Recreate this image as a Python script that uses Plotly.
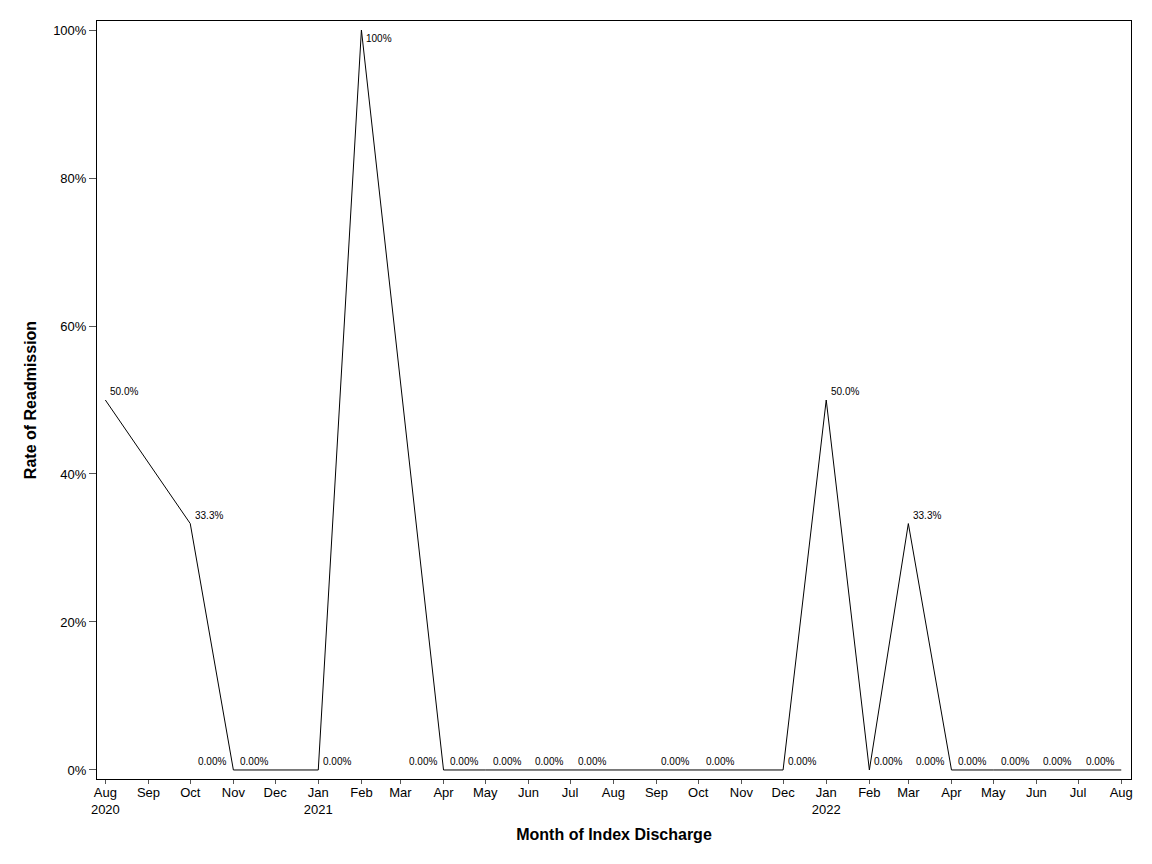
import plotly.graph_objects as go

# Monthly readmission rate (months with no discharges are absent)
months = ["2020-08-01", "2020-10-01", "2020-11-01", "2020-12-01", "2021-01-01",
          "2021-02-01", "2021-04-01", "2021-05-01", "2021-06-01", "2021-07-01",
          "2021-08-01", "2021-09-01", "2021-11-01", "2021-12-01", "2022-01-01",
          "2022-02-01", "2022-03-01", "2022-04-01", "2022-05-01", "2022-06-01",
          "2022-07-01", "2022-08-01"]
rates = [50.0, 33.3, 0, 0, 0,
         100, 0, 0, 0, 0,
         0, 0, 0, 0, 50.0,
         0, 33.3, 0, 0, 0,
         0, 0]
labels = ["50.0%", "33.3%", "0.00%", "0.00%", "0.00%",
          "100%", "0.00%", "0.00%", "0.00%", "0.00%",
          "0.00%", "0.00%", "0.00%", "0.00%", "50.0%",
          "0.00%", "33.3%", "0.00%", "0.00%", "0.00%",
          "0.00%", "0.00%"]

# placement of each data label (right / left of the point)
label_side = ["R", "R", "L", "L", "R",
              "R", "L", "L", "L", "L",
              "L", "R", "L", "R", "R",
              "R", "R", "L", "L", "L",
              "L", "L"]

tick_vals = ["2020-08-01", "2020-09-01", "2020-10-01", "2020-11-01", "2020-12-01",
             "2021-01-01", "2021-02-01", "2021-03-01", "2021-04-01", "2021-05-01",
             "2021-06-01", "2021-07-01", "2021-08-01", "2021-09-01", "2021-10-01",
             "2021-11-01", "2021-12-01", "2022-01-01", "2022-02-01", "2022-03-01",
             "2022-04-01", "2022-05-01", "2022-06-01", "2022-07-01", "2022-08-01"]
tick_text = ["Aug<br>2020", "Sep", "Oct", "Nov", "Dec",
             "Jan<br>2021", "Feb", "Mar", "Apr", "May",
             "Jun", "Jul", "Aug", "Sep", "Oct",
             "Nov", "Dec", "Jan<br>2022", "Feb", "Mar",
             "Apr", "May", "Jun", "Jul", "Aug"]

y_ticks = [0, 20, 40, 60, 80, 100]
y_text = ["0%", "20%", "40%", "60%", "80%", "100%"]

FONT = "Liberation Sans, Arial, sans-serif"

fig = go.Figure()
fig.add_trace(go.Scatter(x=months, y=rates, mode="lines",
                         line=dict(color="black", width=1), showlegend=False))

for m, r, lab, side in zip(months, rates, labels, label_side):
    top = r >= 100
    fig.add_annotation(x=m, y=r, text=lab, showarrow=False,
                       xanchor="left" if side == "R" else "right",
                       yanchor="top" if top else "bottom",
                       xshift=3 if side == "R" else -5,
                       yshift=-1 if top else 1,
                       font=dict(family=FONT, size=10, color="black"))

# page body has an 8px margin, so the figure is slightly smaller than the window
fig.update_layout(
    width=1144, height=856,
    margin=dict(l=89, r=21, t=13, b=85),
    plot_bgcolor="white", paper_bgcolor="white",
    font=dict(family=FONT, size=13, color="black"),
)
fig.update_xaxes(
    type="date", range=["2020-07-26", "2022-08-08"],
    tickmode="array", tickvals=tick_vals, ticktext=tick_text,
    ticks="outside", ticklen=4, tickcolor="#555555", ticklabelstandoff=-3,
    showline=True, linecolor="black", linewidth=1, mirror=True,
    showgrid=False, zeroline=False,
    tickfont=dict(size=13),
    title=dict(text="<b>Month of Index Discharge</b>", font=dict(size=16), standoff=13),
)
fig.update_yaxes(
    range=[-1.22, 101.22],
    tickmode="array", tickvals=y_ticks, ticktext=y_text,
    ticks="outside", ticklen=7, tickcolor="#555555",
    showline=True, linecolor="black", linewidth=1, mirror=True,
    showgrid=False, zeroline=False,
    tickfont=dict(size=13),
    title=dict(text="<b>Rate of Readmission</b>", font=dict(size=16), standoff=12),
)

fig.write_html("out.html")
